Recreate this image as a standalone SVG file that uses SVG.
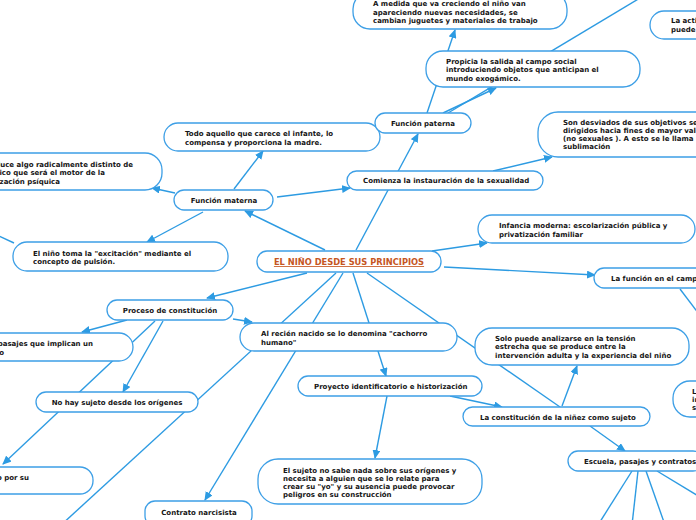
<svg xmlns="http://www.w3.org/2000/svg" width="696" height="520" viewBox="0 0 696 520">
<style>
.n rect{fill:#fff;stroke:#3d9fe6;stroke-width:1.3}
.n text{font-family:"DejaVu Sans","Liberation Sans",sans-serif;font-weight:bold;font-size:7px;fill:#151515}
.c line{stroke:#2d9be2;stroke-width:1.4;fill:none}
.a{marker-end:url(#ah)}
.root text{font-size:8.3px;fill:#c5561f;text-decoration:underline}
</style>
<defs>
<marker id="ah" markerUnits="userSpaceOnUse" markerWidth="9" markerHeight="8" refX="8" refY="4" orient="auto">
<path d="M0,0 L9,4 L0,8 z" fill="#2d9be2"/>
</marker>
</defs>
<rect width="696" height="520" fill="#fff"/>
<g id="connectors" class="c">
<line class="a" x1="427" y1="113" x2="455" y2="30"/>
<line class="a" x1="443" y1="113" x2="496" y2="88"/>
<line x1="448" y1="113" x2="640" y2="-2"/>
<line class="a" x1="356" y1="250" x2="418" y2="134"/>
<line class="a" x1="277" y1="197" x2="350" y2="188"/>
<line class="a" x1="234" y1="189" x2="263" y2="151"/>
<line class="a" x1="325" y1="250" x2="245" y2="211"/>
<line class="a" x1="175" y1="193" x2="152" y2="188"/>
<line class="a" x1="203" y1="212" x2="147" y2="242"/>
<line class="a" x1="493" y1="171" x2="552" y2="157"/>
<line x1="-10" y1="232" x2="14" y2="243"/>
<line class="a" x1="432" y1="251" x2="487" y2="243"/>
<line class="a" x1="444" y1="267" x2="595" y2="275"/>
<line x1="680" y1="289" x2="705" y2="322"/>
<line class="a" x1="307" y1="273" x2="207" y2="298"/>
<line class="a" x1="127" y1="320" x2="82" y2="332"/>
<line class="a" x1="155" y1="321" x2="3" y2="464"/>
<line class="a" x1="163" y1="321" x2="123" y2="392"/>
<line class="a" x1="233" y1="319" x2="252" y2="322"/>
<line x1="336" y1="273" x2="60" y2="526"/>
<line class="a" x1="343" y1="273" x2="205" y2="500"/>
<line class="a" x1="353" y1="273" x2="386" y2="376"/>
<line x1="367" y1="273" x2="560" y2="407"/>
<line class="a" x1="562" y1="406" x2="577" y2="366"/>
<line class="a" x1="450" y1="396" x2="502" y2="407"/>
<line class="a" x1="387" y1="396" x2="375" y2="458"/>
<line class="a" x1="590" y1="426" x2="625" y2="451"/>
<line x1="632" y1="471" x2="598" y2="525"/>
<line x1="638" y1="471" x2="632" y2="525"/>
<line x1="646" y1="471" x2="665" y2="525"/>
<line x1="657" y1="471" x2="705" y2="500"/>
</g>
<g id="n1" class="n"><rect x="353" y="-8" width="214" height="37" rx="17"/><text x="373" y="5.5">A medida que va creciendo el niño van</text><text x="373" y="14.5">apareciendo nuevas necesidades, se</text><text x="373" y="22.5">cambian juguetes y materiales de trabajo</text></g>
<g id="n2" class="n"><rect x="650" y="11" width="80" height="28" rx="14"/><text x="671" y="22.5">La actividad</text><text x="671" y="31.5">puede</text></g>
<g id="n3" class="n"><rect x="426" y="51" width="214" height="36" rx="17"/><text x="446" y="63.5">Propicia la salida al campo social</text><text x="446" y="72">introduciendo objetos que anticipan el</text><text x="446" y="80.5">mundo exogámico.</text></g>
<g id="n4" class="n"><rect x="164" y="123" width="216" height="28" rx="14"/><text x="185" y="135.5">Todo aquello que carece el infante, lo</text><text x="185" y="144.5">compensa y proporciona la madre.</text></g>
<g id="n5" class="n"><rect x="375" y="113" width="96" height="20" rx="10"/><text x="423" y="125.5" text-anchor="middle">Función paterna</text></g>
<g id="n6" class="n"><rect x="-60" y="153" width="222" height="37" rx="17"/><text x="133" y="166.5" text-anchor="end">Introduce algo radicalmente distinto de</text><text x="105" y="175" text-anchor="end">lo biológico que será el motor de la</text><text x="60" y="183.5" text-anchor="end">organización psíquica</text></g>
<g id="n7" class="n"><rect x="174" y="190" width="99" height="20" rx="10"/><text x="224" y="202.5" text-anchor="middle">Función materna</text></g>
<g id="n8" class="n"><rect x="347" y="171" width="196" height="19" rx="9.5"/><text x="363" y="183.3">Comienza la instauración de la sexualidad</text></g>
<g id="n9" class="n"><rect x="538" y="112" width="200" height="45" rx="20"/><text x="563" y="124.5">Son desviados de sus objetivos sexuales</text><text x="563" y="132.8">dirigidos hacia fines de mayor valor</text><text x="563" y="141.1">(no sexuales ). A esto se le llama</text><text x="563" y="149.4">sublimación</text></g>
<g id="n10" class="n"><rect x="13" y="242" width="215" height="29" rx="14"/><text x="33" y="255.5">El niño toma la "excitación" mediante el</text><text x="33" y="264">concepto de pulsión.</text></g>
<g id="n11" class="n root"><rect x="257" y="251" width="184" height="21" rx="10"/><text x="349" y="265" text-anchor="middle">EL NIÑO DESDE SUS PRINCIPIOS</text></g>
<g id="n12" class="n"><rect x="478" y="215" width="217" height="28" rx="14"/><text x="499" y="227.5">Infancia moderna: escolarización pública y</text><text x="499" y="236.5">privatización familiar</text></g>
<g id="n13" class="n"><rect x="594" y="268" width="130" height="20" rx="10"/><text x="611" y="280.5">La función en el campo</text></g>
<g id="n14" class="n"><rect x="107" y="300" width="126" height="20" rx="10"/><text x="170" y="313" text-anchor="middle">Proceso de constitución</text></g>
<g id="n15" class="n"><rect x="-90" y="333" width="223" height="28" rx="14"/><text x="93" y="345.5" text-anchor="end">Atraviesa pasajes que implican un</text><text x="4" y="354.5" text-anchor="end">cambio</text></g>
<g id="n16" class="n"><rect x="36" y="392" width="162" height="20" rx="10"/><text x="117" y="404.5" text-anchor="middle">No hay sujeto desde los orígenes</text></g>
<g id="n17" class="n"><rect x="-130" y="467" width="223" height="27" rx="13"/><text x="29" y="479.5" text-anchor="end">Es constituido por su</text></g>
<g id="n18" class="n"><rect x="240" y="323" width="217" height="28" rx="14"/><text x="261" y="335.5">Al recién nacido se lo denomina "cachorro</text><text x="261" y="344.5">humano"</text></g>
<g id="n19" class="n"><rect x="298" y="376" width="184" height="20" rx="10"/><text x="314" y="388.5">Proyecto identificatorio e historización</text></g>
<g id="n20" class="n"><rect x="475" y="328" width="214" height="37" rx="17"/><text x="495" y="340.5">Solo puede analizarse en la tensión</text><text x="495" y="349.3">estrecha que se produce entre la</text><text x="495" y="358">intervención adulta y la experiencia del niño</text></g>
<g id="n21" class="n"><rect x="463" y="407" width="187" height="19" rx="9.5"/><text x="480" y="419.5">La constitución de la niñez como sujeto</text></g>
<g id="n22" class="n"><rect x="258" y="459" width="224" height="45" rx="20"/><text x="283" y="472.5">El sujeto no sabe nada sobre sus orígenes y</text><text x="283" y="480.8">necesita a alguien que se lo relate para</text><text x="283" y="489.1">crear su "yo" y su ausencia puede provocar</text><text x="283" y="497.4">peligros en su construcción</text></g>
<g id="n23" class="n"><rect x="145" y="501" width="107" height="25" rx="10"/><text x="199" y="514.5" text-anchor="middle">Contrato narcisista</text></g>
<g id="n24" class="n"><rect x="568" y="451" width="135" height="20" rx="10"/><text x="584" y="463.5">Escuela, pasajes y contratos</text></g>
<g id="n25" class="n"><rect x="673" y="381" width="80" height="36" rx="17"/><text x="692" y="393.5">La</text><text x="692" y="401.5">in</text><text x="692" y="409.5">su</text></g>
</svg>
